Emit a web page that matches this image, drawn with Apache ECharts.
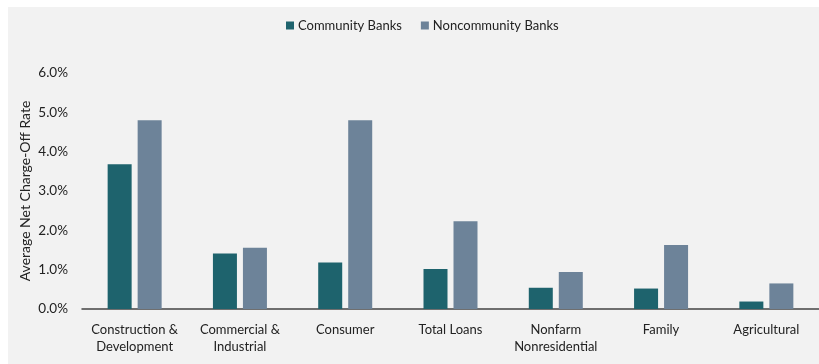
<!DOCTYPE html>
<html>
<head>
<meta charset="utf-8">
<script src="https://cdn.jsdelivr.net/npm/echarts@6/dist/echarts.min.js"></script>
<style>
html,body{margin:0;padding:0;background:#ffffff;}
#c{width:819px;height:364px;}
</style>
</head>
<body>
<div id="c"></div>
<script>
const categories = ["Construction &\nDevelopment", "Commercial &\nIndustrial", "Consumer", "Total Loans", "Nonfarm\nNonresidential", "Family", "Agricultural"];
const communityBanks = [3.68, 1.41, 1.18, 1.02, 0.54, 0.52, 0.19];
const noncommunityBanks = [4.80, 1.56, 4.80, 2.23, 0.94, 1.63, 0.65];
const seriesNames = ["Community Banks", "Noncommunity Banks"];
const yTicks = {min: 0, max: 6, interval: 1};

const FONT = "Lato";
const chart = echarts.init(document.getElementById('c'), null, {renderer: 'canvas'});
chart.setOption({
  animation: false,
  backgroundColor: '#ffffff',
  graphic: [{
    type: 'rect', z: -10, silent: true,
    shape: {x: 8, y: 7, width: 811, height: 357},
    style: {fill: '#f2f2f2'}
  }],
  textStyle: {fontFamily: FONT},
  legend: {
    data: seriesNames,
    left: 281, top: 14,
    itemWidth: 8, itemHeight: 8, itemGap: 19,
    icon: 'rect',
    textStyle: {fontFamily: FONT, fontSize: 13, color: '#222', padding: [0,0,0,-1]}
  },
  grid: {left: 82, top: 73, width: 742, bottom: 55, containLabel: false},
  xAxis: {
    type: 'category',
    data: categories,
    axisLine: {lineStyle: {color: '#444', width: 1.5}},
    axisTick: {show: false},
    axisLabel: {fontFamily: FONT, fontSize: 13, color: '#222', margin: 12, lineHeight: 17, interval: 0}
  },
  yAxis: {
    type: 'value',
    min: yTicks.min, max: yTicks.max, interval: yTicks.interval,
    name: 'Average Net Charge-Off Rate',
    nameLocation: 'middle',
    nameGap: 50,
    nameMoveOverlap: false,
    nameTextStyle: {fontFamily: FONT, fontSize: 14, color: '#222'},
    splitLine: {show: false},
    axisLine: {show: false},
    axisTick: {show: false},
    axisLabel: {fontFamily: FONT, fontSize: 13.5, color: '#222', margin: 14,
      formatter: v => v.toFixed(1) + '%'}
  },
  series: [
    {name: seriesNames[0], type: 'bar', data: communityBanks, barWidth: 24, barGap: '25%',
     itemStyle: {color: '#1e636d'}},
    {name: seriesNames[1], type: 'bar', data: noncommunityBanks, barWidth: 24, barGap: '25%',
     itemStyle: {color: '#6d8399'}}
  ]
});
</script>
</body>
</html>
